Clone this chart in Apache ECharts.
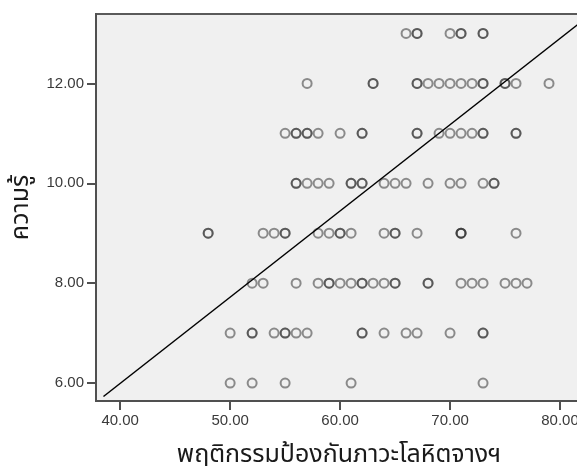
<!DOCTYPE html>
<html>
<head>
<meta charset="utf-8">
<script src="https://cdn.jsdelivr.net/npm/echarts@6/dist/echarts.min.js"></script>
<style>
  html, body { margin: 0; padding: 0; background: #ffffff; }
  #chart { width: 577px; height: 466px; }
</style>
</head>
<body>
<div id="chart"></div>
<script>
// Knowledge score levels (y) and the behaviour scores (x) recorded at each level.
// Repeated values are respondents sharing the same pair of scores.
const knowledgeLevels = [13, 12, 11, 10, 9, 8, 7, 6];
const behaviourAt13 = [66, 67, 67, 70, 71, 71, 73, 73];
const behaviourAt12 = [57, 63, 63, 67, 67, 68, 69, 70, 71, 72, 73, 73, 75, 75, 76, 79];
const behaviourAt11 = [55, 56, 56, 57, 57, 58, 60, 62, 62, 67, 67, 69, 70, 71, 72, 73, 73, 76, 76];
const behaviourAt10 = [56, 56, 57, 58, 59, 61, 61, 62, 62, 64, 65, 66, 68, 70, 71, 73, 74, 74];
const behaviourAt9 = [48, 48, 53, 54, 55, 55, 58, 59, 60, 60, 61, 64, 65, 65, 67, 71, 71, 71, 76];
const behaviourAt8 = [52, 53, 56, 58, 59, 59, 60, 61, 62, 62, 63, 64, 65, 65, 68, 68, 71, 72, 73, 75, 76, 77];
const behaviourAt7 = [50, 52, 52, 54, 55, 55, 56, 57, 62, 62, 64, 66, 67, 70, 73, 73];
const behaviourAt6 = [50, 52, 55, 61, 73];
const behaviourByLevel = [behaviourAt13, behaviourAt12, behaviourAt11, behaviourAt10,
                          behaviourAt9, behaviourAt8, behaviourAt7, behaviourAt6];

// Reference line end points [behaviour, knowledge]
const lineStart = [38.48, 5.73];
const lineEnd = [82, 13.245];

// Tick values
const xTicks = [40, 50, 60, 70, 80];
const yTicks = [6, 8, 10, 12];

const xTitle = 'พฤติกรรมป้องกันภาวะโลหิตจางฯ';
const yTitle = 'ความรู้';

const points = [];
knowledgeLevels.forEach((k, i) => {
  behaviourByLevel[i].forEach(b => points.push([b, k]));
});

const chart = echarts.init(document.getElementById('chart'), null, { renderer: 'canvas' });
const labelStyle = {
  color: '#3a3a3a',
  fontFamily: 'Liberation Sans, Arial, sans-serif',
  fontSize: 15,
  formatter: v => Number(v).toFixed(2)
};
const thaiFont = 'Noto Sans Thai, Tahoma, Noto Sans, sans-serif';
const tickStyle = { color: '#505050', width: 2 };

chart.setOption({
  animation: false,
  backgroundColor: '#ffffff',
  grid: {
    left: 96, right: -5, top: 14, bottom: 65,
    outerBoundsMode: 'none',
    containLabel: false,
    show: true,
    backgroundColor: '#f0f0f0',
    borderColor: '#5a5a5a',
    borderWidth: 2
  },
  xAxis: {
    type: 'value',
    min: 37.8, max: 82,
    name: xTitle,
    nameLocation: 'middle',
    nameGap: 43,
    nameTextStyle: { fontFamily: thaiFont, fontSize: 25, color: '#1a1a1a' },
    splitLine: { show: false },
    axisLine: { show: true, lineStyle: { color: '#505050', width: 2 } },
    axisTick: { show: true, length: 9, customValues: xTicks, lineStyle: tickStyle },
    axisLabel: Object.assign({ customValues: xTicks, margin: 12 }, labelStyle)
  },
  yAxis: {
    type: 'value',
    min: 5.64, max: 13.39,
    name: yTitle,
    nameLocation: 'middle',
    nameGap: 58,
    nameTextStyle: { fontFamily: thaiFont, fontSize: 25, color: '#1a1a1a' },
    splitLine: { show: false },
    axisLine: { show: true, lineStyle: { color: '#505050', width: 2 } },
    axisTick: { show: true, length: 9, customValues: yTicks, lineStyle: tickStyle },
    axisLabel: Object.assign({ customValues: yTicks, margin: 12 }, labelStyle)
  },
  series: [
    {
      type: 'scatter',
      data: points,
      symbol: 'circle',
      symbolSize: 9,
      itemStyle: {
        color: 'transparent',
        borderColor: 'rgba(45,45,45,0.65)',
        borderWidth: 2
      },
      z: 2
    },
    {
      type: 'line',
      data: [lineStart, lineEnd],
      symbol: 'none',
      lineStyle: { color: '#000000', width: 1.5 },
      z: 3
    }
  ]
});
</script>
</body>
</html>
